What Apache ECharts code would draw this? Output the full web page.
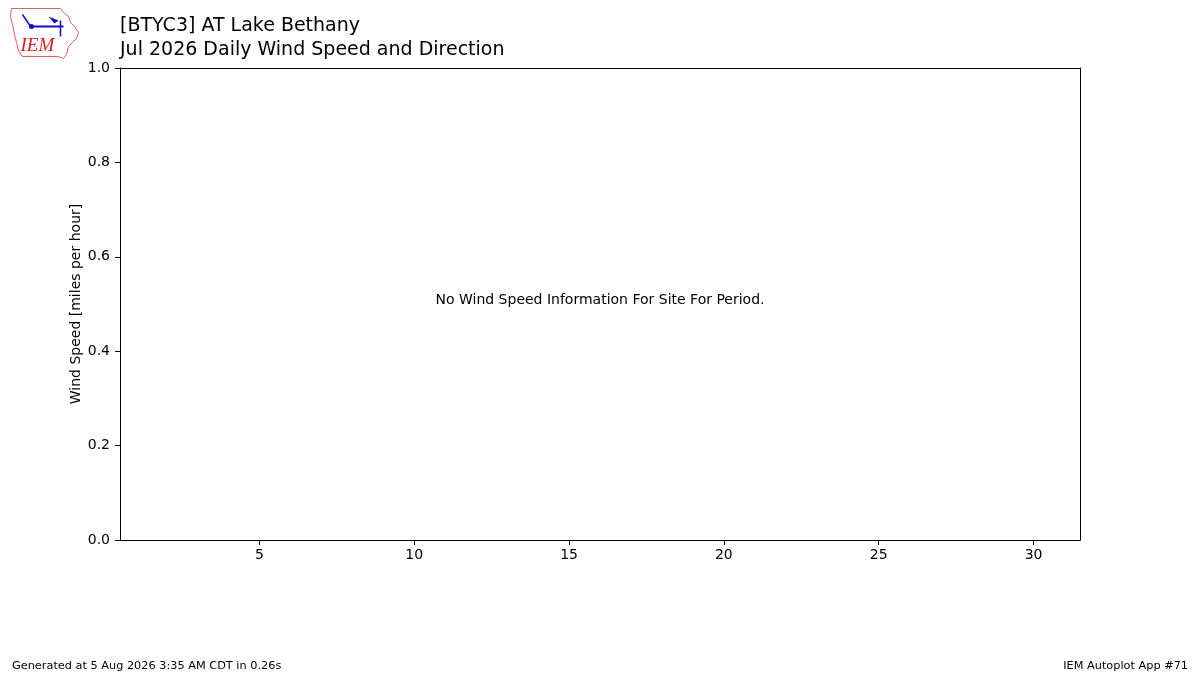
<!DOCTYPE html>
<html><head><meta charset="utf-8">
<script src="https://cdn.jsdelivr.net/npm/echarts@6/dist/echarts.min.js"></script>
<style>html,body{margin:0;padding:0;background:#fff}#c{width:1200px;height:675px}</style>
</head><body><div id="c"></div>
<script>
// Data (no observations for this period)
const days = [];
const windSpeed = [];
const xTickValues = [5, 10, 15, 20, 25, 30];
const yTickValues = [0, 0.2, 0.4, 0.6, 0.8, 1.0];
const titleLines = ["[BTYC3] AT Lake Bethany", "Jul 2026 Daily Wind Speed and Direction"];
const noDataText = "No Wind Speed Information For Site For Period.";
const footerLeft = "Generated at 5 Aug 2026 3:35 AM CDT in 0.26s";
const footerRight = "IEM Autoplot App #71";

const F = 'DejaVu Sans';
const lineStyle = {color: '#000', width: 1};
const chart = echarts.init(document.getElementById('c'), null, {renderer: 'canvas'});
chart.setOption({
  animation: false,
  backgroundColor: '#fff',
  grid: {left: 120, top: 68, width: 960, height: 472, show: false},
  xAxis: [{
    type: 'value', min: 0.5, max: 31.5, position: 'bottom',
    axisLine: {show: true, onZero: false, lineStyle},
    splitLine: {show: false},
    axisTick: {show: true, inside: false, length: 5, lineStyle, customValues: xTickValues},
    axisLabel: {color: '#000', fontFamily: F, fontSize: 14, margin: 8, customValues: xTickValues}
  }, {
    type: 'value', min: 0.5, max: 31.5, position: 'top',
    axisLine: {show: true, onZero: false, lineStyle},
    splitLine: {show: false}, axisTick: {show: false}, axisLabel: {show: false}
  }],
  yAxis: [{
    type: 'value', min: 0, max: 1, interval: 0.2, position: 'left',
    name: 'Wind Speed [miles per hour]', nameLocation: 'middle', nameGap: 37, nameMoveOverlap: false,
    nameTextStyle: {color: '#000', fontFamily: F, fontSize: 14},
    axisLine: {show: true, onZero: false, lineStyle},
    splitLine: {show: false},
    axisTick: {show: true, inside: false, length: 5, lineStyle},
    axisLabel: {color: '#000', fontFamily: F, fontSize: 14, margin: 10, formatter: v => v.toFixed(1)}
  }, {
    type: 'value', min: 0, max: 1, interval: 0.2, position: 'right',
    axisLine: {show: true, onZero: false, lineStyle},
    splitLine: {show: false}, axisTick: {show: false}, axisLabel: {show: false}
  }],
  series: [{type: 'bar', xAxisIndex: 0, yAxisIndex: 0, data: days.map((d, i) => [d, windSpeed[i]]), itemStyle: {color: '#1f77b4'}}],
  graphic: [
    {type: 'text', left: 120, top: 17, style: {text: titleLines[0], font: '19px "DejaVu Sans"', fill: '#000'}},
    {type: 'text', left: 120, top: 41, style: {text: titleLines[1], font: '19px "DejaVu Sans"', fill: '#000'}},
    {type: 'text', x: 600, y: 300, style: {text: noDataText, font: '14px "DejaVu Sans"', fill: '#000', align: 'center', verticalAlign: 'middle'}},
    {type: 'text', left: 12, top: 661, style: {text: footerLeft, font: '11.3px "DejaVu Sans"', fill: '#000'}},
    {type: 'text', right: 12, top: 661, style: {text: footerRight, font: '11.3px "DejaVu Sans"', fill: '#000'}},
    // IEM logo approximation
    {type: 'group', left: 8, top: 6, children: [
      {type: 'polyline', shape: {points: [[3,2],[52,2],[55,6],[60,10],[62,16],[66,20],[70,26],[68,32],[64,36],[60,40],[58,48],[55,52],[50,50],[14,50],[10,44],[8,36],[6,28],[4,18],[2,10],[3,2]]}, style: {stroke: '#e06060', lineWidth: 1, fill: 'none'}},
      {type: 'line', shape: {x1: 22, y1: 20, x2: 55, y2: 20}, style: {stroke: '#1010c0', lineWidth: 2}},
      {type: 'circle', shape: {cx: 23, cy: 20, r: 2.5}, style: {fill: '#1010c0'}},
      {type: 'line', shape: {x1: 22, y1: 20, x2: 14, y2: 8}, style: {stroke: '#1010c0', lineWidth: 1.5}},
      {type: 'polygon', shape: {points: [[40,10],[50,14],[46,17]]}, style: {fill: '#1010c0'}},
      {type: 'line', shape: {x1: 52, y1: 14, x2: 52, y2: 30}, style: {stroke: '#1010c0', lineWidth: 1.5}},
      {type: 'text', x: 12, y: 30, style: {text: 'IEM', font: 'italic 19px "Liberation Serif"', fill: '#d02020'}}
    ]}
  ]
});
</script>
</body></html>
